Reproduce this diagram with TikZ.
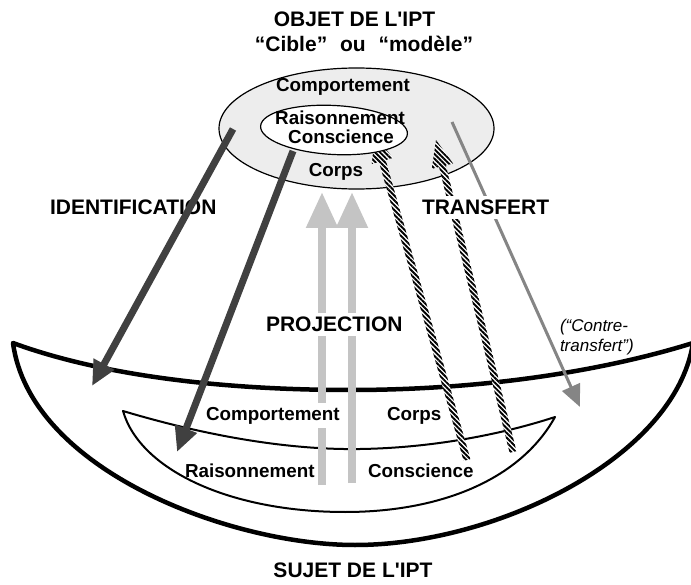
\documentclass[tikz,border=0pt]{standalone}
\usepackage{fontspec}
\setmainfont{Liberation Sans}[Ligatures=TeXOff]
\usetikzlibrary{arrows.meta,calc,shapes.geometric,patterns.meta}
\definecolor{darkarrow}{HTML}{404040}
\definecolor{projgray}{HTML}{C4C4C4}
\definecolor{midgray}{HTML}{858585}
\definecolor{ringgray}{HTML}{EDEDED}
\tikzset{
  titletext/.style={font=\fontsize{21}{25}\selectfont\bfseries, inner sep=0pt, outer sep=0pt},
  lbltext/.style={font=\fontsize{18.8}{22}\selectfont\bfseries, inner sep=0pt, outer sep=0pt},
  ittext/.style={font=\fontsize{17}{20}\selectfont\itshape, inner sep=0pt, outer sep=0pt},
  whitebox/.style={fill=white, inner xsep=4pt, inner ysep=4pt, outer sep=0pt},
  darkarr/.style={draw=darkarrow, line width=7pt, -{Triangle[length=25pt,width=22pt]}},
  projarr/.style={draw=projgray, line width=8pt, -{Triangle[length=36pt,width=30pt]}},
  grayarr/.style={draw=midgray, line width=3pt, -{Triangle[length=22pt,width=19pt]}},
  ropefill/.style={preaction={fill=white}, pattern={Lines[angle=-45,distance=3.4pt,line width=1.9pt]}},
  bowlout/.style={line width=4.5pt, line join=round},
  bowlin/.style={line width=2pt, line join=round},
}
\begin{document}
\begin{tikzpicture}[x=1pt,y=-1pt]
\useasboundingbox[fill=white] (0,0) rectangle (691,585);

% object ellipse (outer ring)
\node[ellipse, draw, line width=1.2pt, fill=ringgray, minimum width=275pt, minimum height=121pt, inner sep=0pt] (objet) at (356.5,128.5) {};

% subject bowl
\draw[bowlout] (13,343) .. controls (100,375) and (220,390) .. (350,390)
  .. controls (480,390) and (600,372) .. (693,343)
  .. controls (675,458) and (495,545) .. (355,545)
  .. controls (230,545) and (30,470) .. (13,343) -- cycle;
\draw[bowlin] (123,411) .. controls (220,440) and (300,450) .. (360,449)
  .. controls (430,448) and (500,435) .. (555,417)
  .. controls (520,480) and (440,512) .. (345,512)
  .. controls (230,512) and (140,470) .. (123,411) -- cycle;

% arrow end points
\coordinate (d1t) at (233,129); \coordinate (d1p) at (92,386);
\coordinate (d2t) at (293,151); \coordinate (d2p) at (177,452);
\coordinate (p1t) at (322,485); \coordinate (p1p) at (322,192);
\coordinate (p2t) at (352,483); \coordinate (p2p) at (352,192);
\coordinate (h1t) at (467,460); \coordinate (h1p) at (375,135);
\coordinate (h2t) at (513,452); \coordinate (h2p) at (436,140);
\coordinate (gt) at (452,122);  \coordinate (gp) at (580,407);

% projection arrows
\draw[projarr] (p1t) -- (p1p);
\draw[projarr] (p2t) -- (p2p);

% hatched (transfert) arrows
\coordinate (h1b) at ($(h1p)!27pt!(h1t)$);
\path[ropefill] ($(h1t)!3.5pt!90:(h1p)$) -- ($(h1b)!3.5pt!90:(h1p)$) -- ($(h1b)!11pt!90:(h1p)$)
  -- (h1p) -- ($(h1b)!11pt!-90:(h1p)$) -- ($(h1b)!3.5pt!-90:(h1p)$) -- ($(h1t)!3.5pt!-90:(h1p)$) -- cycle;
\coordinate (h2b) at ($(h2p)!27pt!(h2t)$);
\path[ropefill] ($(h2t)!3.5pt!90:(h2p)$) -- ($(h2b)!3.5pt!90:(h2p)$) -- ($(h2b)!11pt!90:(h2p)$)
  -- (h2p) -- ($(h2b)!11pt!-90:(h2p)$) -- ($(h2b)!3.5pt!-90:(h2p)$) -- ($(h2t)!3.5pt!-90:(h2p)$) -- cycle;

% inner ellipse
\node[ellipse, draw, line width=1.2pt, fill=white, minimum width=147pt, minimum height=49pt, inner sep=0pt, rotate=-3] (inner) at (334,130) {};

% contre-transfert arrow
\draw[grayarr] (gt) -- (gp);

% labels in the object
\node[lbltext, anchor=base] (oc) at (343,91.5) {Comportement};
\node[lbltext, anchor=base] (or) at (340,125) {Raisonnement};
\node[lbltext, anchor=base] (ocs) at (341,143.5) {Conscience};
\node[lbltext, anchor=base] (ocp) at (336,176.5) {Corps};

% titles
\node[titletext, anchor=base] (objtitle) at (354.5,26.5) {OBJET DE L'IPT};
\node[titletext, anchor=base] (cible) at (364,52) {“Cible”\hspace{7pt} ou\hspace{7pt} “modèle”};
\node[titletext, anchor=base] (sujet) at (353,577) {SUJET DE L'IPT};
\node[titletext, anchor=base west] (ident) at (50,215) {IDENTIFICATION};
\node[titletext, whitebox, anchor=base west] (transf) at (418,215) {TRANSFERT};
\node[titletext, whitebox, anchor=base west] (proj) at (262,331.5) {PROJECTION};
\node[ittext, anchor=base west] (ct1) at (560,332) {(“Contre-};
\node[ittext, anchor=base west] (ct2) at (560,352) {transfert”)};

% labels in the subject
\node[lbltext, whitebox, inner xsep=6pt, anchor=base west] (sc) at (200,420) {Comportement\hspace{6pt}};
\node[lbltext, anchor=base west] (scp) at (387,420) {Corps};
\node[lbltext, anchor=base west] (sr) at (185,477) {Raisonnement};
\node[lbltext, anchor=base west] (scs) at (368,477) {Conscience};

% identification arrows
\draw[darkarr] (d1t) -- (d1p);
\draw[darkarr] (d2t) -- (d2p);
\end{tikzpicture}
\end{document}
